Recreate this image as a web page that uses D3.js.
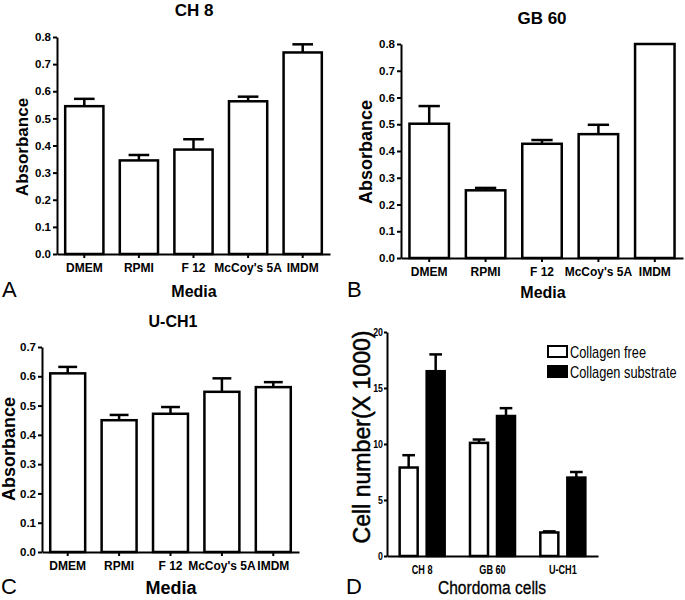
<!DOCTYPE html>
<html>
<head>
<meta charset="utf-8">
<script src="https://cdn.jsdelivr.net/npm/d3@7"></script>
<style>
  body { margin: 0; background: #fff; }
  svg { display: block; }
</style>
</head>
<body>
<script>
// ---------- DATA ----------
const mediaCats = ["DMEM", "RPMI", "F 12", "McCoy's 5A", "IMDM"];
const ch8Means  = [0.545, 0.345, 0.385, 0.563, 0.743];
const ch8Errs   = [0.027, 0.020, 0.038, 0.017, 0.030];
const gb60Means = [0.502, 0.253, 0.427, 0.463, 0.800];
const gb60Errs  = [0.066, 0.009, 0.014, 0.035, 0];
const uch1Means = [0.610, 0.450, 0.472, 0.547, 0.563];
const uch1Errs  = [0.022, 0.018, 0.023, 0.046, 0.017];
const absTicks08 = [0, 0.1, 0.2, 0.3, 0.4, 0.5, 0.6, 0.7, 0.8];
const absTicks07 = [0, 0.1, 0.2, 0.3, 0.4, 0.5, 0.6, 0.7];

const cellLines      = ["CH 8", "GB 60", "U-CH1"];
const seriesNames    = ["Collagen free", "Collagen substrate"];
const collagenFree   = [7.9, 10.1, 2.1];
const collagenFreeErr= [1.1, 0.3, 0.1];
const collagenSub    = [16.5, 12.5, 7.0];
const collagenSubErr = [1.5, 0.7, 0.5];
const cellTicks      = [0, 5, 10, 15, 20];

// ---------- DRAW ----------
const SANS = "'Liberation Sans', Arial, Helvetica, sans-serif";

const svg = d3.select("body").append("svg").attr("width", 685).attr("height", 600);

// horizontally condense a text to emulate a narrow face
function condense(sel, f) {
  sel.each(function () {
    const w = this.getComputedTextLength();
    d3.select(this).attr("textLength", w * f).attr("lengthAdjust", "spacingAndGlyphs");
  });
}
// narrow text via a scaled group (keeps bounding box honest)
function narrowText(g, str, x, y, size, f, anchor) {
  const holder = g.append("g").attr("transform", `translate(${x},${y}) scale(${f},1)`);
  return holder.append("text").text(str).attr("x", 0).attr("y", 0)
    .attr("text-anchor", anchor || "start")
    .style("font-family", SANS).style("font-size", size + "px");
}

function styleAxis(g, size, weight) {
  g.select(".domain").attr("stroke", "#000").attr("stroke-width", 2);
  g.selectAll(".tick line").attr("stroke", "#000").attr("stroke-width", 2);
  g.selectAll(".tick text").attr("fill", "#000")
    .style("font-family", SANS).style("font-size", size + "px").style("font-weight", weight);
}

function errorBar(g, cx, bw, yTopBar, yErr) {
  g.append("line").attr("x1", cx).attr("x2", cx).attr("y1", yTopBar).attr("y2", yErr)
    .attr("stroke", "#000").attr("stroke-width", 2.5);
  g.append("line").attr("x1", cx - bw * 0.27).attr("x2", cx + bw * 0.27).attr("y1", yErr).attr("y2", yErr)
    .attr("stroke", "#000").attr("stroke-width", 2.5);
}

function absPanel(p) {
  const g = svg.append("g");
  const x = d3.scaleBand().domain(mediaCats).range([p.x0, p.x1]).paddingInner(p.pad).paddingOuter(p.pad / 2);
  const y = d3.scaleLinear().domain([0, p.max]).range([p.yB, p.yT]);
  const bw = x.bandwidth();

  mediaCats.forEach((c, i) => {
    const v = p.means[i], e = p.errs[i];
    const cx = x(c) + bw / 2;
    if (e > 0) errorBar(g, cx, bw, y(v), y(v + e));
    g.append("rect").attr("x", x(c)).attr("y", y(v)).attr("width", bw).attr("height", p.yB - y(v))
      .attr("fill", "#fff").attr("stroke", "#000").attr("stroke-width", 2.5);
  });

  const ya = g.append("g").attr("transform", `translate(${p.x0},0)`)
    .call(d3.axisLeft(y).tickValues(p.ticks).tickFormat(d3.format(".1f")).tickSize(4).tickSizeOuter(0).tickPadding(2));
  styleAxis(ya, 11.5, "bold");
  const xa = g.append("g").attr("transform", `translate(0,${p.yB})`)
    .call(d3.axisBottom(x).tickSize(4).tickSizeOuter(0).tickPadding(5));
  styleAxis(xa, 12, "bold");

  g.append("text").text(p.title).attr("x", p.tx).attr("y", p.ty).attr("text-anchor", "middle")
    .style("font-family", SANS).style("font-size", p.tsize + "px").style("font-weight", "bold");
  g.append("text").text("Absorbance").attr("text-anchor", "middle")
    .attr("transform", `translate(${p.lx},${p.ly}) rotate(-90)`)
    .style("font-family", SANS).style("font-size", p.lsize + "px").style("font-weight", "bold");
  g.append("text").text("Media").attr("x", p.mx).attr("y", p.my).attr("text-anchor", "middle")
    .style("font-family", SANS).style("font-size", p.msize + "px").style("font-weight", "bold");
  g.append("text").text(p.letter).attr("x", p.ax).attr("y", p.ay)
    .style("font-family", SANS).style("font-size", "22px");
}

absPanel({ x0: 57, x1: 330, yB: 254, yT: 37, max: 0.8, ticks: absTicks08, pad: 0.3,
  means: ch8Means, errs: ch8Errs, title: "CH 8", tx: 194, ty: 16, tsize: 17,
  lx: 28, ly: 147, lsize: 17, mx: 194, my: 297, msize: 16, letter: "A", ax: 2, ay: 297 });

absPanel({ x0: 401, x1: 683, yB: 258, yT: 44, max: 0.8, ticks: absTicks08, pad: 0.3,
  means: gb60Means, errs: gb60Errs, title: "GB 60", tx: 542, ty: 24, tsize: 17,
  lx: 372, ly: 152, lsize: 18, mx: 543, my: 298, msize: 16, letter: "B", ax: 347, ay: 297 });

absPanel({ x0: 42, x1: 299, yB: 552, yT: 347, max: 0.7, ticks: absTicks07, pad: 0.32,
  means: uch1Means, errs: uch1Errs, title: "U-CH1", tx: 173, ty: 327, tsize: 16,
  lx: 15, ly: 449, lsize: 18, mx: 171, my: 594, msize: 18, letter: "C", ax: 1, ay: 594 });

// ---------- Panel D ----------
(function () {
  const g = svg.append("g");
  const x0 = 387, x1 = 598, yB = 556, yT = 332;
  const xg = d3.scaleBand().domain(cellLines).range([x0, x1]).paddingInner(0.36).paddingOuter(0.18);
  const xs = d3.scaleBand().domain([0, 1]).range([0, xg.bandwidth()]).paddingInner(1 / 3).paddingOuter(0);
  const y = d3.scaleLinear().domain([0, 20]).range([yB, yT]);
  const bw = xs.bandwidth();
  const series = [
    { name: seriesNames[0], vals: collagenFree, errs: collagenFreeErr, fill: "#fff" },
    { name: seriesNames[1], vals: collagenSub, errs: collagenSubErr, fill: "#000" }
  ];
  cellLines.forEach((c, i) => {
    series.forEach((s, j) => {
      const bx = xg(c) + xs(j);
      const v = s.vals[i], e = s.errs[i];
      errorBar(g, bx + bw / 2, bw * 1.3, y(v), y(v + e));
      g.append("rect").attr("x", bx).attr("y", y(v)).attr("width", bw).attr("height", yB - y(v))
        .attr("fill", s.fill).attr("stroke", "#000").attr("stroke-width", 2.5);
    });
  });
  const ya = g.append("g").attr("transform", `translate(${x0},0)`)
    .call(d3.axisLeft(y).tickValues(cellTicks).tickFormat(d3.format("d")).tickSize(3).tickSizeOuter(0).tickPadding(1));
  styleAxis(ya, 11, "bold");
  condense(ya.selectAll(".tick text"), 0.8);
  const xa = g.append("g").attr("transform", `translate(0,${yB})`)
    .call(d3.axisBottom(xg).tickSize(0).tickSizeOuter(0).tickPadding(9));
  styleAxis(xa, 12, "bold");
  condense(xa.selectAll(".tick text"), 0.76);

  g.append("text").text("Cell number(X 1000)").attr("text-anchor", "middle")
    .attr("transform", `translate(370,437) rotate(-90)`)
    .attr("textLength", 213).attr("lengthAdjust", "spacingAndGlyphs")
    .attr("stroke", "#000").attr("stroke-width", 0.5)
    .style("font-family", SANS).style("font-size", "23px");
  narrowText(g, "Chordoma cells", 492, 594, 19, 0.82, "middle").attr("stroke", "#000").attr("stroke-width", 0.3);
  g.append("text").text("D").attr("x", 346).attr("y", 594)
    .style("font-family", SANS).style("font-size", "22px");

  // legend
  series.forEach((s, j) => {
    const ly = 346 + j * 20;
    g.append("rect").attr("x", 548).attr("y", ly).attr("width", 19).attr("height", 11)
      .attr("fill", s.fill).attr("stroke", "#000").attr("stroke-width", 2);
    narrowText(g, s.name, 570, ly + 11.5, 16, 0.8, "start");
  });
})();
</script>
</body>
</html>
